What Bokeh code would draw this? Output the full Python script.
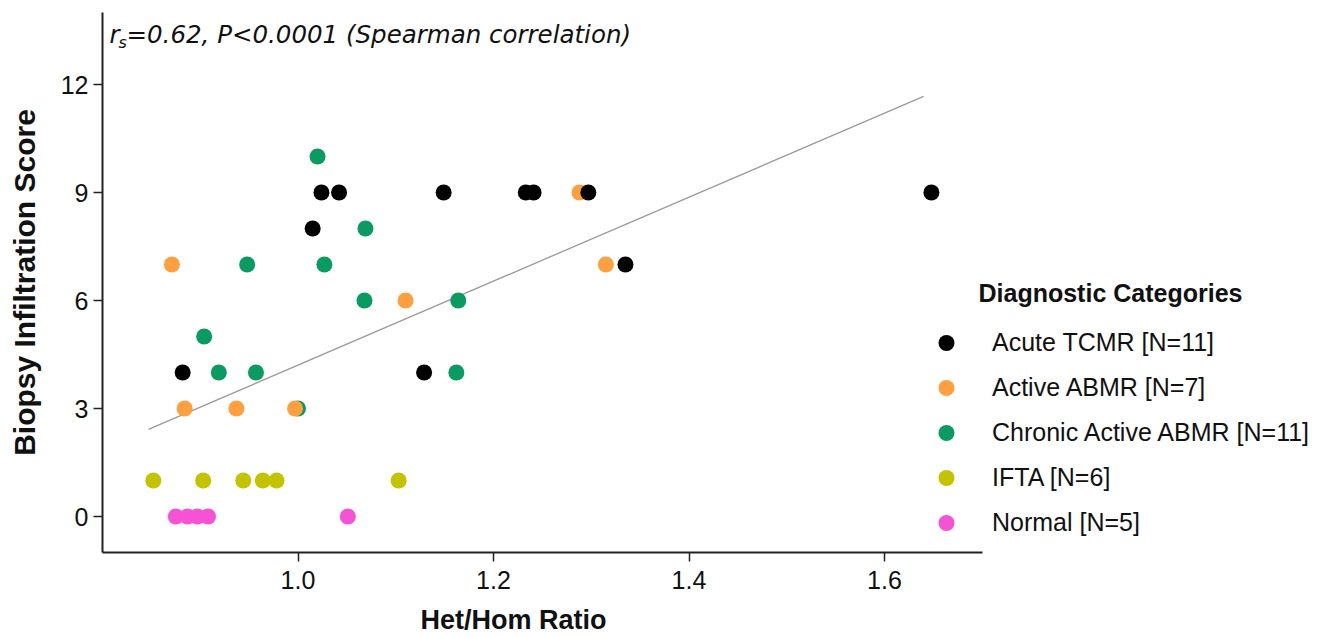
from bokeh.plotting import figure
from bokeh.models import Range1d, FixedTicker, Legend, LegendItem, Label, NumeralTickFormatter
from bokeh.embed import file_html
from bokeh.resources import INLINE

# ---------------- data ----------------
categories = ["Acute TCMR [N=11]", "Active ABMR [N=7]", "Chronic Active ABMR [N=11]",
              "IFTA [N=6]", "Normal [N=5]"]
colors = ["#000000", "#FFA040", "#0A9B62", "#C3C300", "#F652D6"]

acute_x = [0.882, 1.129, 1.335, 1.015, 1.024, 1.042, 1.149, 1.233, 1.241, 1.297, 1.648]
acute_y = [4, 4, 7, 8, 9, 9, 9, 9, 9, 9, 9]
active_x = [0.871, 0.884, 0.937, 0.997, 1.110, 1.315, 1.288]
active_y = [7, 3, 3, 3, 6, 7, 9]
chronic_x = [0.948, 1.027, 1.068, 1.164, 0.904, 0.919, 0.957, 1.162, 1.000, 1.020, 1.069]
chronic_y = [7, 7, 6, 6, 5, 4, 4, 4, 3, 10, 8]
ifta_x = [0.852, 0.903, 0.944, 0.964, 0.978, 1.103]
ifta_y = [1, 1, 1, 1, 1, 1]
normal_x = [0.875, 0.887, 0.897, 0.908, 1.051]
normal_y = [0, 0, 0, 0, 0]

# trend line end points
fit_x = [0.847, 1.640]
fit_y = [2.42, 11.67]

x_ticks = [1.0, 1.2, 1.4, 1.6]
y_ticks = [0, 3, 6, 9, 12]
x_axis_bounds = (0.8, 1.7)
y_axis_bounds = (-1, 14)

xs = [acute_x, active_x, chronic_x, ifta_x, normal_x]
ys = [acute_y, active_y, chronic_y, ifta_y, normal_y]

FONT = "Liberation Sans"
W, H = 1330, 636
# pixel layout: x=1.0 at 297.5px, 977.5 px per unit; y=0 at 516px, 36 px per unit
PX_X, X0_PX = 977.5, 297.5
PX_Y, Y0_PX = 36.0, 516.0
x_range = Range1d(1.0 - X0_PX / PX_X, 1.0 + (W - X0_PX) / PX_X)
y_range = Range1d(-(H - Y0_PX) / PX_Y, Y0_PX / PX_Y)

p = figure(width=W, height=H, x_range=x_range, y_range=y_range,
           output_backend="svg", toolbar_location=None,
           min_border=0, min_border_left=0, min_border_right=0,
           min_border_top=0, min_border_bottom=0)
p.grid.visible = False
p.outline_line_color = None
p.background_fill_color = "white"

for ax in (p.xaxis[0], p.yaxis[0]):
    ax.axis_line_width = 2
    ax.axis_line_color = "#222222"
    ax.major_tick_line_width = 1.5
    ax.major_tick_line_color = "#222222"
    ax.major_tick_in = 0
    ax.major_tick_out = 9
    ax.minor_tick_line_color = None
    ax.major_label_text_font = FONT
    ax.major_label_text_font_size = "25px"
    ax.major_label_text_color = "#111111"

p.xaxis.fixed_location = y_axis_bounds[0]
p.xaxis.bounds = x_axis_bounds
p.yaxis.fixed_location = x_axis_bounds[0]
p.yaxis.bounds = y_axis_bounds

p.xaxis.ticker = FixedTicker(ticks=x_ticks)
p.xaxis.formatter = NumeralTickFormatter(format="0.0")
p.yaxis.ticker = FixedTicker(ticks=y_ticks)
p.xaxis.major_label_standoff = 9
p.yaxis.major_label_standoff = 5

p.yaxis.axis_label = "Biopsy Infiltration Score"
p.yaxis.axis_label_text_font = FONT
p.yaxis.axis_label_text_font_style = "bold"
p.yaxis.axis_label_text_font_size = "30px"
p.yaxis.axis_label_text_color = "#111111"
p.yaxis.axis_label_standoff = 17

# trend line
p.line(fit_x, fit_y, line_color="#9a9a9a", line_width=1.3)

# points: drawn so that Acute TCMR is on top
rends = [None] * 5
for i in reversed(range(5)):
    rends[i] = p.scatter(xs[i], ys[i], size=16, fill_color=colors[i], line_color=None)

legend = Legend(items=[LegendItem(label=categories[i], renderers=[rends[i]]) for i in range(5)],
                location=(926, H - 545), orientation="vertical",
                glyph_width=40, glyph_height=45, label_height=45, spacing=0,
                padding=0, margin=0, label_standoff=26,
                border_line_color=None, background_fill_alpha=0,
                label_text_font=FONT, label_text_font_size="25px", label_text_color="#111111")
p.add_layout(legend)

DY = 8  # screen-unit label correction
p.add_layout(Label(x=978, y=H - 300 + DY, x_units="screen", y_units="screen",
                   text="Diagnostic Categories", text_font=FONT, text_font_style="bold",
                   text_font_size="25px", text_color="#111111", text_baseline="alphabetic"))

# annotation r_s
p.add_layout(Label(x=109, y=H - 42 + DY, x_units="screen", y_units="screen", text="r",
                   text_font="DejaVu Sans", text_font_style="italic", text_font_size="24.5px",
                   text_color="#111111", text_baseline="alphabetic"))
p.add_layout(Label(x=118, y=H - 50 + DY, x_units="screen", y_units="screen", text="s",
                   text_font="DejaVu Sans", text_font_style="italic", text_font_size="16px",
                   text_color="#111111", text_baseline="alphabetic"))
p.add_layout(Label(x=126, y=H - 42 + DY, x_units="screen", y_units="screen",
                   text="=0.62, P<0.0001 (Spearman correlation)",
                   text_font="DejaVu Sans", text_font_style="italic", text_font_size="24.5px",
                   text_color="#111111", text_baseline="alphabetic"))

# x axis title
p.add_layout(Label(x=513, y=H - 627 + DY, x_units="screen", y_units="screen", text="Het/Hom Ratio",
                   text_font=FONT, text_font_style="bold", text_font_size="27px",
                   text_color="#111111", text_align="center", text_baseline="alphabetic"))

open("out.html", "w").write(file_html(p, INLINE))
